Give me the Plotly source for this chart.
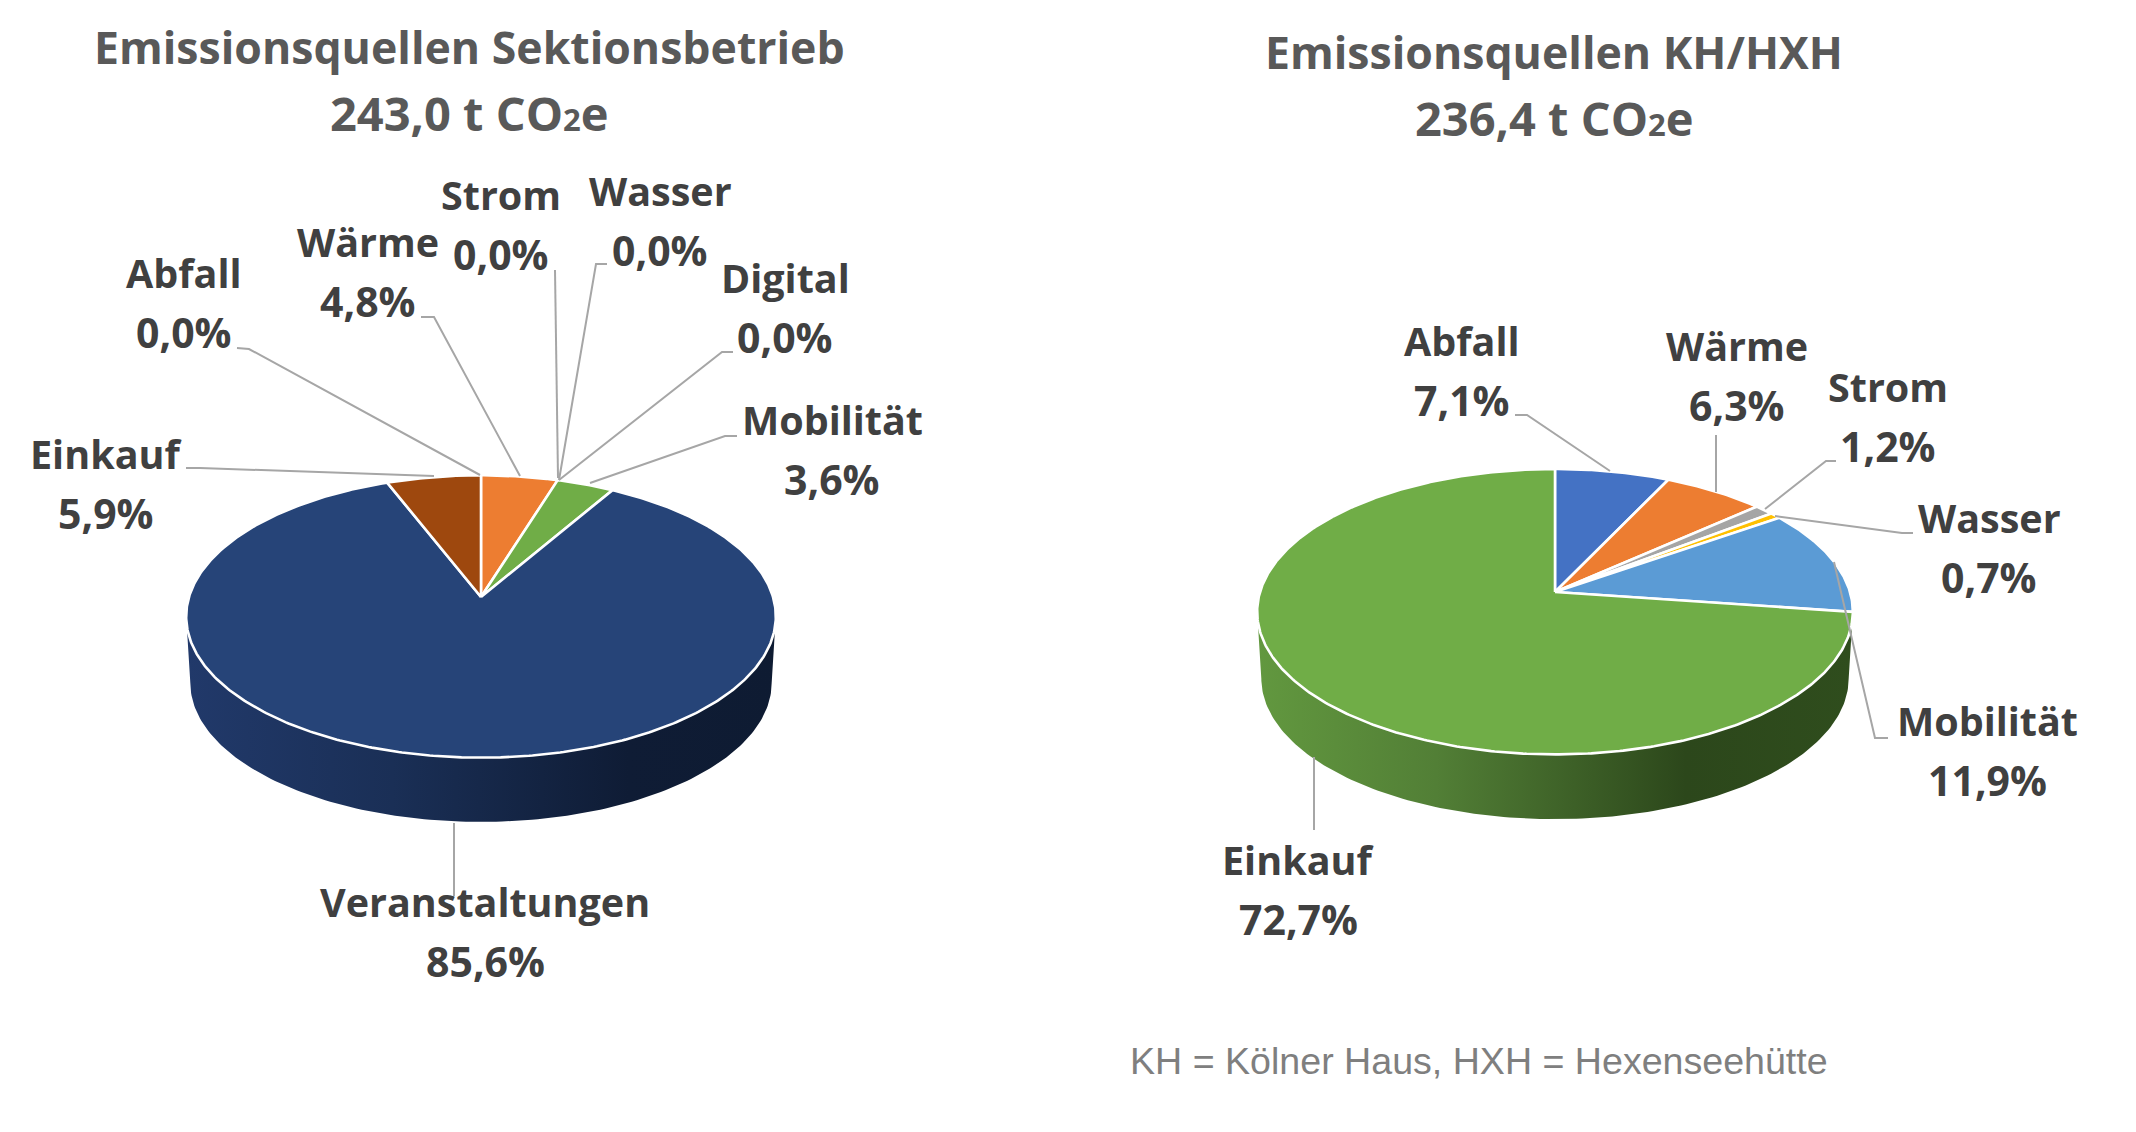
import numpy as np
import plotly.graph_objects as go

# ---------- data ----------
left_categories = ["Abfall", "Wärme", "Strom", "Wasser", "Digital", "Mobilität", "Veranstaltungen", "Einkauf"]
left_values = [0.0, 4.8, 0.0, 0.0, 0.0, 3.6, 85.6, 5.9]
left_colors = ["#4472C4", "#ED7D31", "#A5A5A5", "#FFC000", "#5B9BD5", "#70AD47", "#264478", "#9E480E"]

right_categories = ["Abfall", "Wärme", "Strom", "Wasser", "Mobilität", "Einkauf"]
right_values = [7.1, 6.3, 1.2, 0.7, 11.9, 72.7]
right_colors = ["#4472C4", "#ED7D31", "#A5A5A5", "#FFC000", "#5B9BD5", "#70AD47"]

left_title = ["Emissionsquellen Sektionsbetrieb", "243,0 t CO<span style='font-size:31px'>2</span>e"]
right_title = ["Emissionsquellen KH/HXH", "236,4 t CO<span style='font-size:31px'>2</span>e"]
footnote = "KH = Kölner Haus, HXH = Hexenseehütte"

# ---------- layout (pixels of the 2136x1132 canvas) ----------
W, H = 2136, 1132
KP = 0.138           # perspective strength
LEFT_PIE = dict(cx=481, cy=597, R=292, B=138.5, wall=66.5, shrink=0.986)
RIGHT_PIE = dict(cx=1555, cy=592, R=295, B=140, wall=67, shrink=0.986)
LEFT_WALL = [[0, "#21396a"], [0.35, "#1a2f56"], [0.75, "#0f1c35"], [1, "#0e1b32"]]
RIGHT_WALL = [[0, "#62983f"], [0.3, "#527f36"], [0.72, "#2c471b"], [1, "#2f4d1d"]]

LEFT_LABEL_POS = {"Einkauf": (106, 454), "Abfall": (184, 273), "Wärme": (368, 242), "Strom": (501, 195),
                  "Wasser": (660, 191), "Digital": (785, 278), "Mobilität": (832, 420), "Veranstaltungen": (485, 902)}
RIGHT_LABEL_POS = {"Abfall": (1462, 341), "Wärme": (1737, 346), "Strom": (1888, 387),
                   "Wasser": (1989, 518), "Mobilität": (1987, 721), "Einkauf": (1298, 860)}
LINE_GAP = 59

LEADERS = [
    [(186, 468), (200, 468), (434, 476)],
    [(237, 348), (249, 349), (480, 475)],
    [(421, 317), (434, 317), (520, 476)],
    [(555, 270), (558, 478)],
    [(607, 264), (596, 264), (559, 480)],
    [(733, 352), (722, 352), (559, 480)],
    [(737, 436), (725, 436), (590, 483)],
    [(454, 823), (454, 896)],
    [(1515, 415), (1527, 415), (1610, 471)],
    [(1716, 435), (1716, 492)],
    [(1836, 461), (1826, 461), (1765, 509)],
    [(1913, 533), (1902, 533), (1775, 516)],
    [(1834, 562), (1875, 738), (1888, 738)],
    [(1314, 757), (1314, 830)],
]

FAMILY = "Open Sans, Noto Sans, sans-serif"
LABEL_FONT = dict(family=FAMILY, size=39.5, color="#404040", weight=700)
VALUE_FONT = dict(family=FAMILY, size=41, color="#404040", weight=700)
TITLE_FONT = dict(family=FAMILY, size=44.6, color="#595959", weight=700)
TOTAL_FONT = dict(family=FAMILY, size=47, color="#595959", weight=700)


def project(theta, pie, dy=0.0, scale=1.0):
    """Perspective-project rim angles (clockwise from 12 o'clock) onto the canvas."""
    w = 1 + KP * np.cos(theta)
    return (pie["cx"] + scale * pie["R"] * np.sin(theta) / w,
            pie["cy"] + dy - scale * pie["B"] * np.cos(theta) / w)


def add_pie(fig, cats, vals, cols, pie, wall_scale, name):
    front = np.linspace(np.arccos(-KP), 2 * np.pi - np.arccos(-KP), 160)
    xt, yt = project(front, pie)
    xb, yb = project(front, pie, dy=pie["wall"], scale=pie["shrink"])
    fig.add_trace(go.Scatter(
        x=np.r_[xb, xt[::-1]], y=np.r_[yb, yt[::-1]], mode="lines", fill="toself",
        line=dict(width=0), fillgradient=dict(type="horizontal", colorscale=wall_scale),
        hoverinfo="skip", showlegend=False))
    total = sum(vals)
    start = 0.0
    for c, v, col in zip(cats, vals, cols):
        end = start + v / total * 2 * np.pi
        if v > 0:
            t = np.linspace(start, end, max(4, int(v * 6)))
            x, y = project(t, pie)
            fig.add_trace(go.Scatter(
                x=np.r_[pie["cx"], x, pie["cx"]], y=np.r_[pie["cy"], y, pie["cy"]],
                mode="lines", fill="toself", fillcolor=col,
                line=dict(color="white", width=2.6), name=c,
                hovertemplate=f"{name}<br>{c}: {v:.1f}%<extra></extra>", showlegend=False))
        start = end


fig = go.Figure()
add_pie(fig, left_categories, left_values, left_colors, LEFT_PIE, LEFT_WALL, "Sektionsbetrieb")
add_pie(fig, right_categories, right_values, right_colors, RIGHT_PIE, RIGHT_WALL, "KH/HXH")

shapes = []
for pts in LEADERS:
    path = "M " + " L ".join(f"{x},{y}" for x, y in pts)
    shapes.append(dict(type="path", path=path, line=dict(color="#a6a6a6", width=2), layer="above"))

ann = []
def text(x, y, s, font):
    ann.append(dict(x=x, y=y, text=s, showarrow=False, xanchor="center", yanchor="middle", font=font))

for cats, vals, pos in ((left_categories, left_values, LEFT_LABEL_POS),
                        (right_categories, right_values, RIGHT_LABEL_POS)):
    for c, v in zip(cats, vals):
        x, y = pos[c]
        text(x, y, c, LABEL_FONT)
        text(x, y + LINE_GAP, f"{v:.1f}%".replace(".", ","), VALUE_FONT)

text(469, 46, left_title[0], TITLE_FONT)
text(469, 113, left_title[1], TOTAL_FONT)
text(1554, 51, right_title[0], TITLE_FONT)
text(1554, 118, right_title[1], TOTAL_FONT)
text(1479, 1061, footnote, dict(family="Liberation Sans, Arial, sans-serif", size=37.6, color="#7f7f7f"))

axis = dict(visible=False, fixedrange=True)
fig.update_layout(
    width=W, height=H, margin=dict(l=0, r=0, t=0, b=0),
    paper_bgcolor="white", plot_bgcolor="white",
    xaxis=dict(range=[0, W], **axis), yaxis=dict(range=[H, 0], **axis),
    shapes=shapes, annotations=ann, showlegend=False)

fig.write_html("out.html", config=dict(displayModeBar=False),
               post_script="document.body.style.margin='0';document.documentElement.style.overflow='hidden';")
